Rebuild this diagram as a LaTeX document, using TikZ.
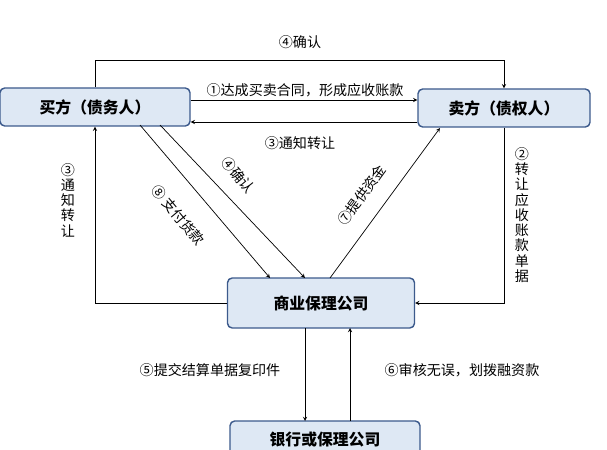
\documentclass[tikz,border=0pt]{standalone}
\usepackage{fontspec}
\setmainfont{Noto Sans CJK SC}
\usetikzlibrary{positioning}
\definecolor{boxfill}{RGB}{222,232,244}
\definecolor{boxline}{RGB}{60,90,140}
\tikzset{
  party/.style={draw=boxline,fill=boxfill,rounded corners=4pt,line width=1.2pt,
    minimum height=38*0.03cm,font=\fontsize{13.5}{15}\selectfont\bfseries,inner sep=0pt},
  lbl/.style={font=\fontsize{12}{13}\selectfont,inner sep=1pt},
  flow/.style={->,>=stealth,line width=0.6pt}
}
\begin{document}
\begin{tikzpicture}[x=0.03cm,y=-0.03cm]
        \useasboundingbox (0,0) rectangle (607,450);
        % parties
        \node[party,minimum width=190*0.03cm] (buyer) at (95,107) {买方（债务人）};
        \node[party,minimum width=172*0.03cm] (seller) at (504,108) {卖方（债权人）};
        \node[party,minimum width=187*0.03cm,minimum height=50*0.03cm] (factor) at (321,303) {商业保理公司};
        \node[party,minimum width=190*0.03cm] (bank) at (325,440) {银行或保理公司};
        %% top and middle arcs
        \draw[flow] (buyer.north) -- (95,60) -- (504,60) -- (seller.north);
        \node[lbl] (l4a) at (300,42) {④确认};
        \draw[flow] (buyer.east |- 0,100) -- (seller.west |- 0,100);
        \node[lbl,fill=white] (l1) at (305,90) {①达成买卖合同，形成应收账款};
        \draw[flow] (seller.west |- 0,122) -- (buyer.east |- 0,122);
        \node[lbl] (l3) at (300,143) {③通知转让};
        %% side arcs
        \draw[flow] (factor.west) -- (95,303) -- (buyer.south);
        \node[lbl,align=center] (l3v) at (68,200) {③\\通\\知\\转\\让};
        \draw[flow] (seller.south) -- (504,303) -- (factor.east);
        \node[lbl,align=center] (l2v) at (522,215) {②\\转\\让\\应\\收\\账\\款\\单\\据};
        %% diagonals
        \draw[flow] (140,125) -- (270,278);
        \node[lbl,rotate=-50] (l8) at (178,215) {⑧ 支付货款};
        \draw[flow] (160,125) -- (305,278);
        \node[lbl,rotate=-50] (l4b) at (238,175) {④确认};
        \draw[flow] (330,278) -- (440,128);
        \node[lbl,rotate=54] (l7) at (362,195) {⑦提供资金};
        %% bank arcs
        \draw[flow] (305,328) -- (305,421);
        \node[lbl] (l5) at (210,370) {⑤提交结算单据复印件};
        \draw[flow] (350,421) -- (350,328);
        \node[lbl] (l6) at (462,370) {⑥审核无误，划拨融资款};
\end{tikzpicture}
\end{document}
